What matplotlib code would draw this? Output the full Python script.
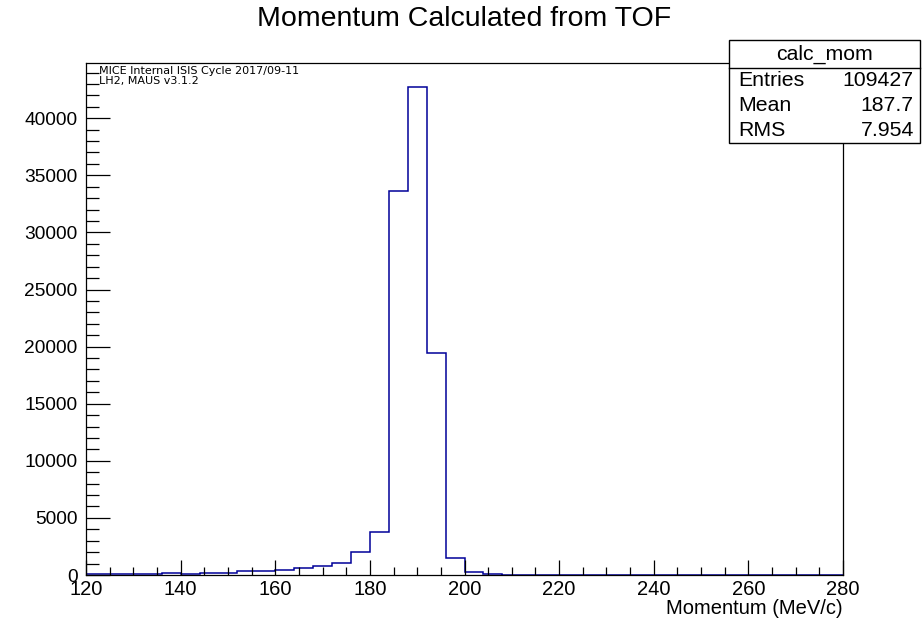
import numpy as np
import matplotlib
matplotlib.use("Agg")
import matplotlib.pyplot as plt
from matplotlib.ticker import MultipleLocator
from matplotlib.patches import Rectangle
from matplotlib.lines import Line2D

# Histogram of momentum, 4 MeV/c bins from 120 to 280
bin_edges = np.arange(120, 284, 4)
counts = [60, 60, 60, 60, 200, 80, 200, 200, 330, 330,
          450, 590, 820, 1080, 1990, 3760, 33600, 42700, 19400, 1520,
          290, 110, 0, 0, 0, 0, 0, 0, 0, 0,
          0, 0, 0, 0, 0, 0, 0, 0, 0, 0]

hist_name = "calc_mom"
stat_labels = ["Entries", "Mean", "RMS"]
stat_values = ["109427", "187.7", "7.954"]
notes = ["MICE Internal ISIS Cycle 2017/09-11", "LH2, MAUS v3.1.2"]

plt.rcParams['font.family'] = ['Liberation Sans', 'DejaVu Sans']

fig = plt.figure(figsize=(9.24, 6.23), dpi=100)
ax = fig.add_axes([86/924, 1-575/623, (843-86)/924, (575-63)/623])

ax.stairs(counts, bin_edges, color='#000099', lw=1.1, baseline=0)

ax.set_xlim(120, 280)
ax.set_ylim(0, max(counts) * 1.05)
ax.xaxis.set_major_locator(MultipleLocator(20))
ax.xaxis.set_minor_locator(MultipleLocator(5))
ax.yaxis.set_major_locator(MultipleLocator(5000))
ax.yaxis.set_minor_locator(MultipleLocator(1000))
ax.tick_params(axis='x', which='major', direction='in', length=11, width=0.9, labelsize=14.5, pad=3.5)
ax.tick_params(axis='x', which='minor', direction='in', length=5.5, width=0.9)
ax.tick_params(axis='y', which='major', direction='in', length=17, width=0.9, labelsize=13.8, pad=6)
ax.tick_params(axis='y', which='minor', direction='in', length=9, width=0.9)
for s in ax.spines.values():
    s.set_linewidth(0.9)
    s.set_zorder(3)

fig.text(464/924, 1-19/623, "Momentum Calculated from TOF", ha='center', va='center', fontsize=20.5)
fig.text(843/924, 1-609/623, "Momentum (MeV/c)", ha='right', va='center', fontsize=14.5)

for i, line in enumerate(notes):
    fig.text(99/924, 1-(71.5+9.5*i)/623, line, ha='left', va='center', fontsize=8,
             family='DejaVu Sans')

# stats box
x0, x1, y0, y1 = 729, 920, 40, 143
fig.patches.append(Rectangle((x0/924, 1-y1/623), (x1-x0)/924, (y1-y0)/623,
                             transform=fig.transFigure, facecolor='white',
                             edgecolor='black', lw=1, zorder=5))
fig.lines.append(Line2D([x0/924, x1/924], [1-68/623, 1-68/623],
                        transform=fig.transFigure, color='black', lw=1, zorder=6))
fig.text((x0+x1)/2/924, 1-54/623, hist_name, ha='center', va='center', fontsize=15.3, zorder=7)
for i, (lab, val) in enumerate(zip(stat_labels, stat_values)):
    yy = 1-(81+24.5*i)/623
    fig.text(738/924, yy, lab, ha='left', va='center', fontsize=15.3, zorder=7)
    fig.text(914/924, yy, val, ha='right', va='center', fontsize=15.3, zorder=7)

fig.savefig("out.png", dpi=100)
